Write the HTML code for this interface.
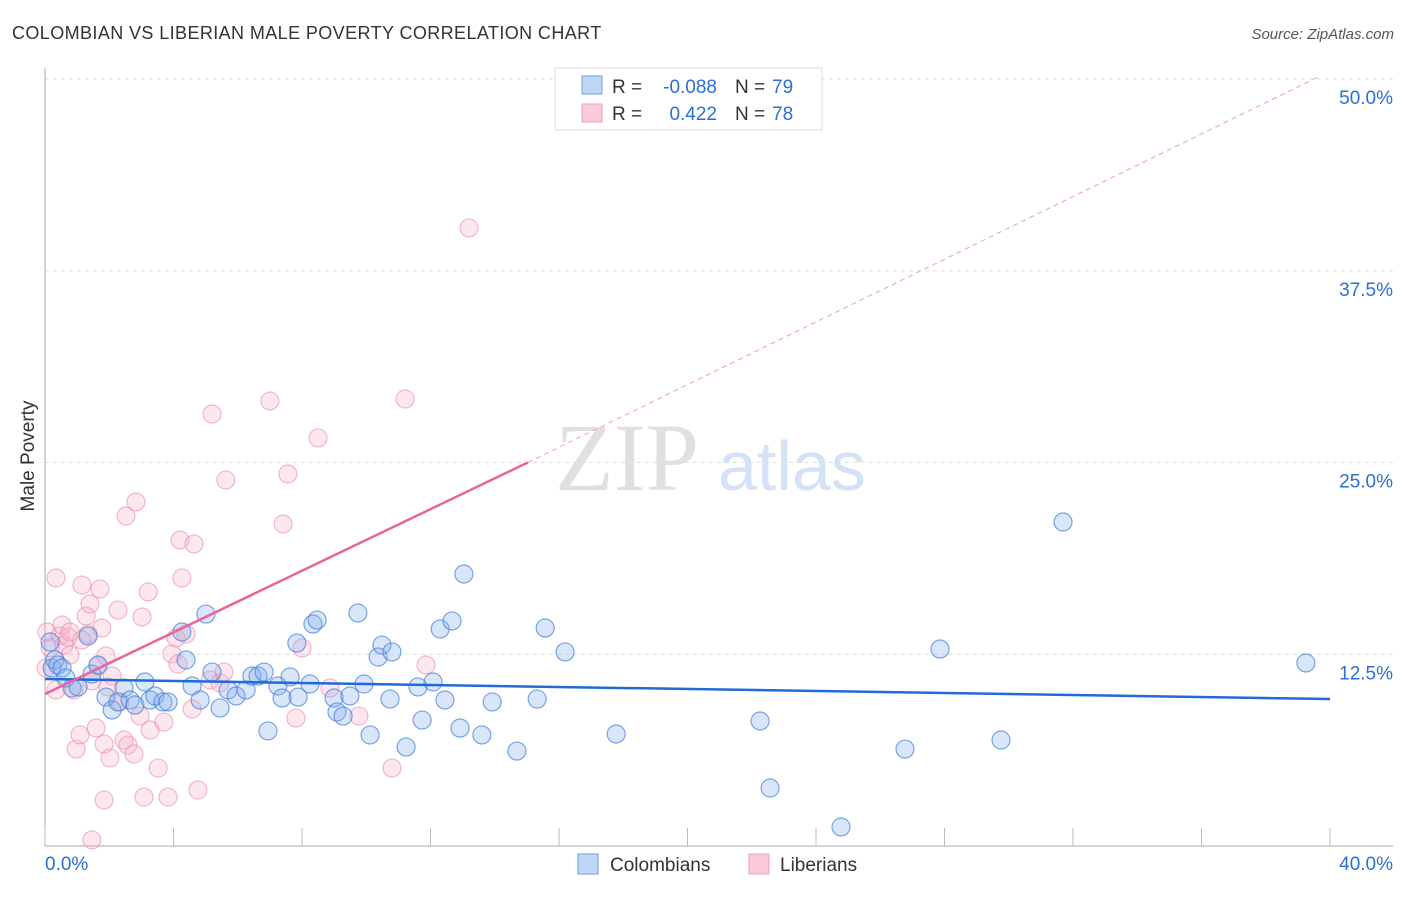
<!DOCTYPE html>
<html><head><meta charset="utf-8"><style>
body{margin:0;background:#fff;font-family:"Liberation Sans",sans-serif;}
</style></head><body>
<svg width="1406" height="892" xmlns="http://www.w3.org/2000/svg" font-family="Liberation Sans, sans-serif">
<text x="12" y="39" font-size="18" fill="#333" letter-spacing="0.4">COLOMBIAN VS LIBERIAN MALE POVERTY CORRELATION CHART</text>
<text x="1394" y="39" font-size="15" fill="#555" font-style="italic" text-anchor="end">Source: ZipAtlas.com</text>
<g id="grid"></g>
<g><text x="555" y="490" font-size="96" font-family="Liberation Serif, serif" fill="#e0e0e0">ZIP</text><text x="718" y="490" font-size="70" fill="#d3e2f5">atlas</text></g>
<g id="axes"></g>
<g id="pts"></g>
<g id="lines"></g>
<text x="34" y="456" font-size="19" fill="#333" transform="rotate(-90 34 456)" text-anchor="middle">Male Poverty</text>
<g>
<rect x="555" y="68" width="267" height="62" fill="#fff" stroke="#ddd"/>
<rect x="582" y="76" width="20" height="18" fill="#c0d6f5" stroke="#6a9ee6"/>
<rect x="582" y="104" width="20" height="18" fill="#fbcbd9" stroke="#f0a0b8"/>
<text x="612" y="93" font-size="19" fill="#333">R =</text>
<text x="717" y="93" font-size="19" fill="#2a6fd6" text-anchor="end">-0.088</text>
<text x="735" y="93" font-size="19" fill="#333">N =</text>
<text x="772" y="93" font-size="19" fill="#2a6fd6">79</text>
<text x="612" y="120" font-size="19" fill="#333">R =</text>
<text x="717" y="120" font-size="19" fill="#2a6fd6" text-anchor="end">0.422</text>
<text x="735" y="120" font-size="19" fill="#333">N =</text>
<text x="772" y="120" font-size="19" fill="#2a6fd6">78</text>
</g>
<g>
<rect x="578" y="854" width="20" height="20" fill="#c0d6f5" stroke="#6a9ee6"/>
<text x="610" y="871" font-size="19" fill="#333">Colombians</text>
<rect x="749" y="854" width="20" height="20" fill="#fbcbd9" stroke="#f0a0b8"/>
<text x="780" y="871" font-size="19" fill="#333">Liberians</text>
</g>
</svg>
<script>
const blueX=[.16,.22,.31,.40,.53,.65,.84,1.03,1.34,1.46,1.65,1.90,2.09,2.27,2.46,2.65,2.80,3.11,3.27,3.42,3.67,3.83,4.26,4.39,4.58,4.83,5.01,5.20,5.45,5.70,5.95,6.26,6.44,6.63,6.82,6.94,7.25,7.38,7.63,7.88,7.84,8.25,8.34,8.47,9.00,9.09,9.28,9.49,9.74,9.93,10.12,10.37,10.49,10.80,10.74,11.24,11.61,11.74,12.08,12.30,12.45,12.67,12.92,13.04,13.60,13.92,14.69,15.32,15.57,16.19,17.78,22.26,22.57,24.78,26.77,27.86,29.76,31.69,39.25];
const blueY=[13.30,11.60,12.13,11.80,11.60,10.95,10.30,10.37,13.69,11.21,11.80,9.71,8.87,9.39,10.30,9.52,9.19,10.69,9.52,9.78,9.39,9.39,13.95,12.13,10.43,9.52,15.12,11.34,9.00,10.17,9.78,10.17,11.08,11.08,11.34,7.50,10.43,9.65,11.02,9.71,13.23,10.56,14.47,14.73,9.65,8.74,8.47,9.78,15.19,10.56,7.24,12.32,13.10,12.65,9.58,6.45,10.37,8.21,10.69,14.15,9.52,14.67,7.69,17.73,7.24,9.39,6.19,9.58,14.21,12.65,7.30,8.15,3.78,1.24,6.32,12.84,6.91,21.12,11.93];
const pinkX=[.06,.16,.03,.34,.47,.59,.72,.78,.90,.97,1.09,1.15,1.28,1.34,1.40,1.46,1.59,1.65,1.71,1.77,1.84,1.90,2.02,2.09,2.27,2.33,2.46,2.52,2.58,2.77,2.83,2.96,3.02,3.21,3.27,3.52,3.70,3.83,3.95,4.08,4.14,4.20,4.26,4.39,4.64,4.58,4.76,5.14,5.20,5.45,5.63,5.57,7.00,7.41,7.56,7.81,8.00,8.50,8.87,9.77,10.80,11.21,11.86,13.20,1.84,1.46,3.08,.53,.34,.78,1.96,1.15];
const pinkY=[13.95,12.91,11.60,17.47,13.69,13.10,13.62,12.45,10.17,6.32,7.24,17.01,14.99,13.82,15.78,10.76,7.69,11.73,16.75,14.21,6.65,12.39,5.74,11.08,15.38,9.39,6.91,21.51,6.58,6.00,22.43,8.47,14.93,16.56,7.56,5.08,8.08,3.19,12.52,13.56,11.86,19.95,17.47,13.82,19.69,8.93,3.65,10.82,28.16,10.63,23.86,11.34,29.01,20.99,24.25,8.34,12.91,26.60,10.30,8.47,5.08,29.14,11.80,40.29,3.00,0.39,3.19,14.41,10.17,13.95,10.37,13.43];
const blueTrend=[10.89,9.58];
const pinkTrend=[9.91,25.0,50.2];
const pinkTrendX=[0,15.03,39.7];
const yTicks=[12.5,25,37.5,50];
const yTickLabels=["12.5%","25.0%","37.5%","50.0%"];
const xTicks=[0,4,8,12,16,20,24,28,32,36,40];
const NS="http://www.w3.org/2000/svg";
const X=v=>45+v/40*1285, Y=v=>846-v/12.5*191.75;
function mk(p,t,a){const e=document.createElementNS(NS,t);for(const k in a)e.setAttribute(k,a[k]);p.appendChild(e);return e;}
const grid=document.getElementById('grid'),axes=document.getElementById('axes'),pts=document.getElementById('pts'),lines=document.getElementById('lines');
yTicks.forEach((t,i)=>{
 const l=mk(grid,'line',{x1:45,x2:1393,y1:Y(t),y2:Y(t),stroke:'#ddd','stroke-dasharray':'4 4'});
 
 
 const tx=mk(axes,'text',{x:1393,y:Y(t)+25,'font-size':19,fill:'#2a6fd6','text-anchor':'end'});
 tx.textContent=yTickLabels[i];
 
 
});
mk(axes,'line',{x1:45,x2:45,y1:68,y2:846,stroke:'#aaa'});
mk(axes,'line',{x1:45,x2:1393,y1:846,y2:846,stroke:'#aaa'});
xTicks.forEach(t=>{const l=mk(axes,'line',{x1:X(t),x2:X(t),y1:828,y2:846,stroke:'#bbb'});
 
 });
let a=mk(axes,'text',{x:45,y:870,'font-size':19,fill:'#2a6fd6'});a.textContent='0.0%';


a=mk(axes,'text',{x:1393,y:870,'font-size':19,fill:'#2a6fd6','text-anchor':'end'});a.textContent='40.0%';


pinkX.forEach((v,i)=>{const c=mk(pts,'circle',{cx:X(v),cy:Y(pinkY[i]),r:9,fill:'rgba(246,175,200,0.3)',stroke:'rgba(236,140,172,0.6)','stroke-width':1.2});
 
 });
blueX.forEach((v,i)=>{const c=mk(pts,'circle',{cx:X(v),cy:Y(blueY[i]),r:9,fill:'rgba(130,172,238,0.3)',stroke:'rgba(70,128,218,0.7)','stroke-width':1.2});
 
 });
let l=mk(lines,'line',{x1:X(0),y1:Y(blueTrend[0]),x2:X(40),y2:Y(blueTrend[1]),stroke:'#1f6ad8','stroke-width':2.5});


l=mk(lines,'line',{x1:X(pinkTrendX[0]),y1:Y(pinkTrend[0]),x2:X(pinkTrendX[1]),y2:Y(pinkTrend[1]),stroke:'#e8649a','stroke-width':2.5});


l=mk(lines,'line',{x1:X(pinkTrendX[1]),y1:Y(pinkTrend[1]),x2:X(pinkTrendX[2]),y2:Y(pinkTrend[2]),stroke:'#eaa0bb','stroke-width':1,'stroke-dasharray':'5 4'});


</script>
</body></html>
